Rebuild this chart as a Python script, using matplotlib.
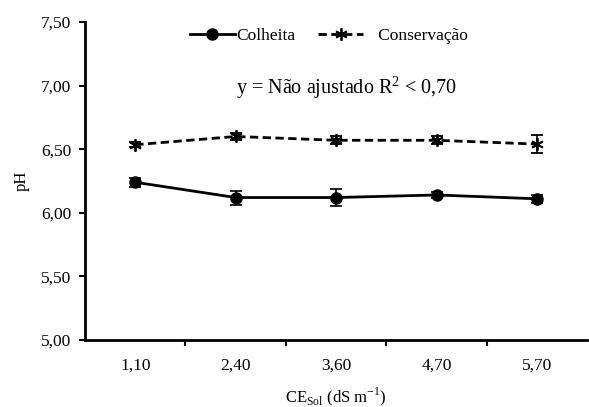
import matplotlib
matplotlib.use("Agg")
import matplotlib.pyplot as plt
import numpy as np

plt.rcParams['font.family'] = ['Liberation Serif', 'DejaVu Serif']
plt.rcParams['mathtext.fontset'] = 'custom'
plt.rcParams['mathtext.rm'] = 'Liberation Serif'
plt.rcParams['axes.unicode_minus'] = False

categories = ["1,10", "2,40", "3,60", "4,70", "5,70"]
colheita = [6.24, 6.12, 6.12, 6.14, 6.11]
colheita_err = [0.035, 0.055, 0.07, 0.02, 0.03]
conservacao = [6.535, 6.60, 6.57, 6.57, 6.54]
conservacao_err = [0.02, 0.03, 0.03, 0.03, 0.07]
yticks = [5.0, 5.5, 6.0, 6.5, 7.0, 7.5]
ytick_labels = ["5,00", "5,50", "6,00", "6,50", "7,00", "7,50"]

fig = plt.figure(figsize=(5.89, 4.07), dpi=100)
ax = fig.add_axes([0.1443, 0.1646, 0.853, 0.7814])

x = np.arange(len(categories))
ax.errorbar(x, colheita, yerr=colheita_err, color='black', lw=2, marker='o',
            ms=8, capsize=4, elinewidth=1.2, capthick=1.2, label='Colheita')
ax.errorbar(x, conservacao, yerr=conservacao_err, color='black', lw=2, ls=(0, (3, 1.6)),
            marker=(6, 2, 0), ms=9, mew=1.3, capsize=4, elinewidth=1.2, capthick=1.2,
            label='   Conservação')

ax.set_xlim(-0.5, len(categories) - 0.5)
ax.set_ylim(5.0, 7.5)
ax.set_yticks(yticks)
ax.set_yticklabels(ytick_labels, fontsize=12.5)
ax.set_xticks(x)
ax.set_xticklabels(categories, fontsize=12.5)
ax.tick_params(axis='x', which='major', length=0, pad=13)
ax.set_xticks(np.arange(0.5, len(categories) - 0.5, 1), minor=True)
ax.tick_params(axis='x', which='minor', length=4, width=1.5, direction='out')
ax.tick_params(axis='y', length=4, width=1.5, direction='out', pad=6)

for s in ['top', 'right']:
    ax.spines[s].set_visible(False)
for s in ['left', 'bottom']:
    ax.spines[s].set_linewidth(2)

ax.set_ylabel('pH', fontsize=12, labelpad=8)
ax.set_xlabel(r'CE$_{\mathrm{Sol}}$ (dS m$^{\mathrm{-1}}$)', fontsize=12, labelpad=8)

ax.text(0.52, 0.795, r'y = Não ajustado R$^{2}$ < 0,70', transform=ax.transAxes,
        ha='center', va='center', fontsize=14.5)

handles, labels = ax.get_legend_handles_labels()
handles = [h[0] for h in handles]
ax.legend(handles, labels, loc='center', bbox_to_anchor=(0.485, 0.955), ncol=2,
          frameon=False, fontsize=12.5, handlelength=2.6, columnspacing=1.3,
          handletextpad=0.1)

fig.savefig('out.png', dpi=100)
